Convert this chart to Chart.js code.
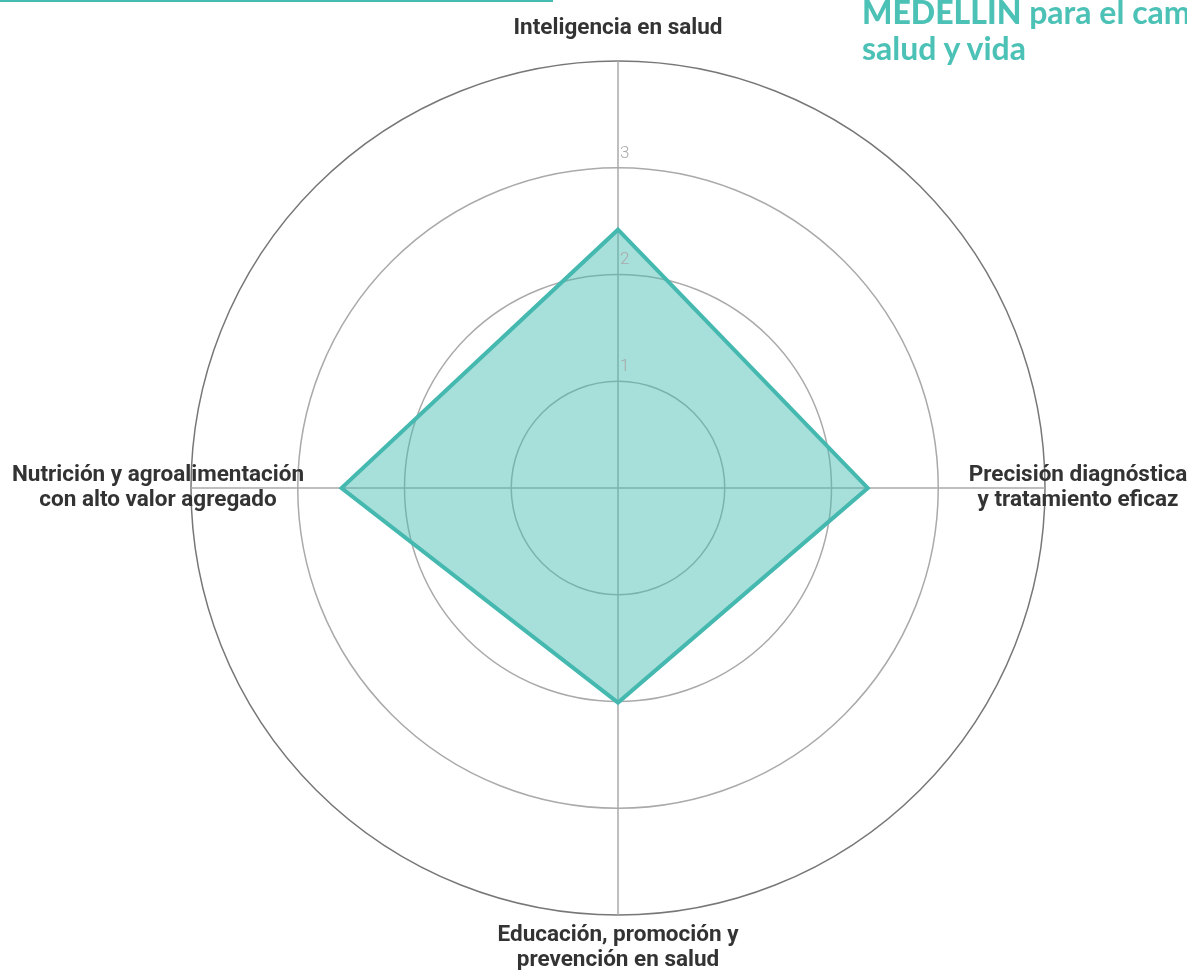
<!DOCTYPE html>
<html lang="es">
<head>
<meta charset="UTF-8">
<title>radar</title>
<script src="https://cdn.jsdelivr.net/npm/chart.js@4.4.1/dist/chart.umd.min.js"></script>
<style>
    html, body { margin:0; padding:0; background:#fff; overflow:hidden; }
    #page { position:relative; width:1187px; height:970px; overflow:hidden; }
    #board { position:absolute; left:0; top:0; width:1187px; height:970px; }
    #topline { position:absolute; left:0; top:0; width:553px; height:2px; background:#45bcb2; }
    #title {
        position:absolute; left:862px; top:-6px; white-space:nowrap;
        font-family:Lato, sans-serif; font-weight:bold; font-size:32px; line-height:36px; color:#4cc1b6;
    }
    #title b { font-weight:900; }
</style>
</head>
<body>
<div id="page">
    <div id="topline"></div>
    <div id="board"><canvas id="chart1" width="1187" height="970"></canvas></div>
    <div id="title"><b>MEDELLÍN</b> para el cambio en<br>salud y vida</div>
</div>
<script>
    // ejes (categorias) del radar
    const labels = [
        ['Inteligencia en salud'],
        ['Precisión diagnóstica', 'y tratamiento eficaz'],
        ['Educación, promoción y', 'prevención en salud'],
        ['Nutrición y agroalimentación', 'con alto valor agregado']
    ];
    const values = [2.42, 2.34, 2.01, 2.59];
    const tickLabels = ['1', '2', '3'];

    // dibuja etiquetas de ejes y numeros encima de la grilla
    const labelPlugin = {
        id: 'labelPlugin',
        afterDraw(chart) {
            const scale = chart.scales.r;
            const ctx = chart.ctx;
            ctx.save();
            // numeros de la escala
            ctx.font = '300 17px Roboto';
            ctx.fillStyle = '#aaaaaa';
            ctx.textAlign = 'left';
            ctx.textBaseline = 'bottom';
            tickLabels.forEach(function (t) {
                const d = scale.getDistanceFromCenterForValue(Number(t));
                ctx.fillText(t, scale.xCenter + 2, scale.yCenter - d - 6);
            });
            // etiquetas de los ejes
            ctx.font = 'bold 22.5px Roboto';
            ctx.fillStyle = '#333333';
            ctx.textAlign = 'center';
            ctx.textBaseline = 'middle';
            labels.forEach(function (lines, i) {
                const p = scale.getPointPosition(i, scale.drawingArea + 33);
                const lh = 25;
                const y0 = p.y - (lines.length - 1) * lh / 2;
                lines.forEach(function (line, k) {
                    ctx.fillText(line, p.x, y0 + k * lh);
                });
            });
            ctx.restore();
        }
    };

    const ctx = document.getElementById('chart1').getContext('2d');
    new Chart(ctx, {
        type: 'radar',
        data: {
            labels: labels,
            datasets: [{
                data: values,
                backgroundColor: 'rgba(69,186,176,0.47)',
                borderColor: '#45b9af',
                borderWidth: 4,
                pointRadius: 0,
                fill: true
            }]
        },
        options: {
            responsive: false,
            animation: false,
            layout: { padding: { left: 191, right: 142, top: 61, bottom: 55 } },
            plugins: { legend: { display: false }, tooltip: { enabled: false } },
            elements: { line: { tension: 0 } },
            scales: {
                r: {
                    min: 0,
                    max: 4,
                    ticks: { stepSize: 1, display: false },
                    pointLabels: { display: false },
                    angleLines: { color: '#aaaaaa', lineWidth: 1.5 },
                    grid: {
                        circular: true,
                        lineWidth: 1.5,
                        color: function (c) { return c.tick && c.tick.value === 4 ? '#777777' : '#aaaaaa'; }
                    }
                }
            }
        },
        plugins: [labelPlugin]
    });
</script>
</body>
</html>
